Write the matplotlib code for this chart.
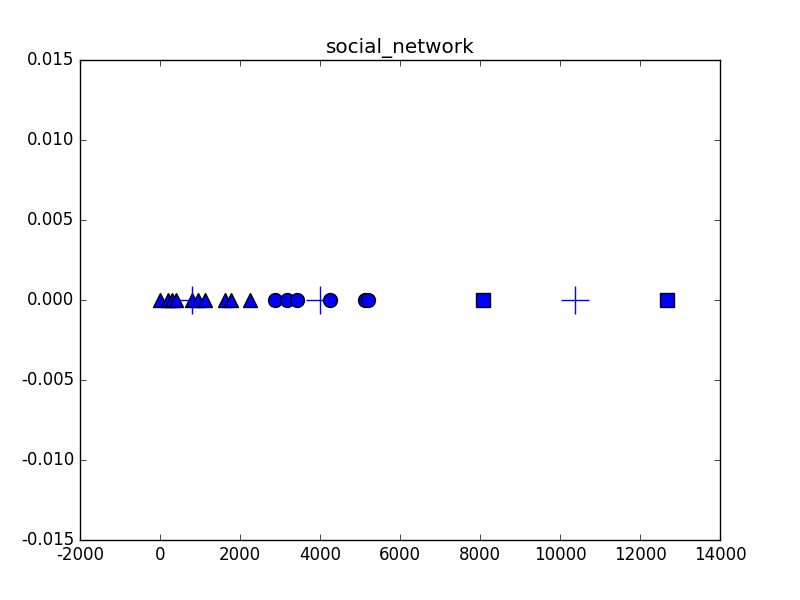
import matplotlib
matplotlib.use("Agg")
import matplotlib.pyplot as plt

plt.style.use("classic")
plt.rcParams["axes.unicode_minus"] = False

# values
tri_x = [0, 200, 300, 400, 800, 950, 1125, 1625, 1775, 2250]
circle_x = [2875, 3167, 3417, 4250, 5125, 5200]
square_x = [8083, 12683]
plus_x = [790, 4000, 10375]


def zeros(xs):
    return [0.0] * len(xs)


fig = plt.figure(figsize=(8, 6))
fig.subplots_adjust(left=0.1, right=0.9, bottom=0.1, top=0.9)
plt.plot(tri_x, zeros(tri_x), "b^", markersize=10, markeredgewidth=1)
plt.plot(circle_x, zeros(circle_x), "bo", markersize=10, markeredgewidth=1)
plt.plot(square_x, zeros(square_x), "bs", markersize=10, markeredgewidth=1)
plt.plot(plus_x, zeros(plus_x), "b+", markersize=20, markeredgewidth=1)
plt.xlim(-2000, 14000)
plt.ylim(-0.015, 0.015)
plt.title("social_network")
fig.savefig("out.png", dpi=100)
